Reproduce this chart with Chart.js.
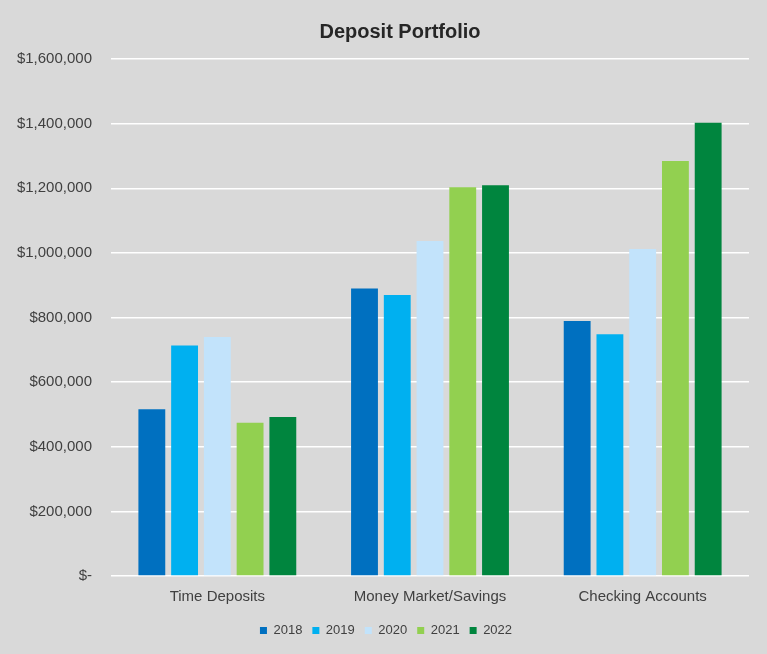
<!DOCTYPE html>
<html>
<head>
<meta charset="utf-8">
<script src="https://cdn.jsdelivr.net/npm/chart.js@4"></script>
<style>
  html, body { margin: 0; padding: 0; background: #d9d9d9; }
  #wrap { width: 767px; height: 654px; }
</style>
</head>
<body>
<div id="wrap"><canvas id="chart" width="767" height="654"></canvas></div>
<script>
const categories = ['Time Deposits', 'Money Market/Savings', 'Checking Accounts'];
const years = ['2018', '2019', '2020', '2021', '2022'];
const values2018 = [516000, 890000, 789000];
const values2019 = [713000, 870000, 748000];
const values2020 = [740000, 1037000, 1012000];
const values2021 = [474000, 1203000, 1284000];
const values2022 = [492000, 1209000, 1403000];
const yTicks = [0, 200000, 400000, 600000, 800000, 1000000, 1200000, 1400000, 1600000];

const colors = ['#0070c0', '#00b0f0', '#c2e3fb', '#92d050', '#00853e'];
const series = [values2018, values2019, values2020, values2021, values2022];

const ctx = document.getElementById('chart').getContext('2d');

// grey background + nudge title/legend to sit where the original has them
const bgPlugin = {
  id: 'bg',
  afterLayout(chart) {
    if (chart.titleBlock) chart.titleBlock.left = 51;
    if (chart.legend) chart.legend.left = 23;
  },
  beforeDraw(chart) {
    const c = chart.ctx;
    c.save();
    c.fillStyle = '#d9d9d9';
    c.fillRect(0, 0, chart.width, chart.height);
    c.restore();
  }
};

new Chart(ctx, {
  type: 'bar',
  data: {
    labels: categories,
    datasets: years.map((y, i) => ({
      label: y,
      data: series[i],
      backgroundColor: colors[i],
      borderWidth: 0,
      categoryPercentage: 0.77,
      barPercentage: 0.82,
    })),
  },
  options: {
    responsive: false,
    animation: false,
    layout: { padding: { left: 0, right: 18, top: 0, bottom: 7 } },
    scales: {
      x: {
        grid: { display: false, drawTicks: false },
        border: { display: false },
        afterFit(scale) {
          scale.height = 38; // leave room so the legend sits lower
        },
        ticks: {
          color: '#404040',
          font: { family: 'Liberation Sans, Arial', size: 15 },
          padding: 12,
        },
      },
      y: {
        min: 0,
        max: 1600000,
        afterBuildTicks(scale) {
          scale.ticks = yTicks.map(v => ({ value: v }));
        },
        afterFit(scale) {
          scale.width = 111;
        },
        grid: { color: '#ffffff', lineWidth: 1.5, drawTicks: false },
        border: { display: false },
        ticks: {
          color: '#404040',
          font: { family: 'Liberation Sans, Arial', size: 15 },
          padding: 19,
          callback: (v) => v === 0 ? '$-' : '$' + v.toLocaleString('en-US'),
        },
      },
    },
    plugins: {
      title: {
        display: true,
        text: 'Deposit Portfolio',
        color: '#262626',
        font: { family: 'Liberation Sans, Arial', size: 20, weight: 'bold' },
        padding: { top: 20, bottom: 15 },
      },
      legend: {
        position: 'bottom',
        labels: {
          color: '#404040',
          font: { family: 'Liberation Sans, Arial', size: 13 },
          boxWidth: 7,
          boxHeight: 7,
          padding: 10,
        },
      },
      tooltip: { enabled: false },
    },
  },
  plugins: [bgPlugin],
});
</script>
</body>
</html>
